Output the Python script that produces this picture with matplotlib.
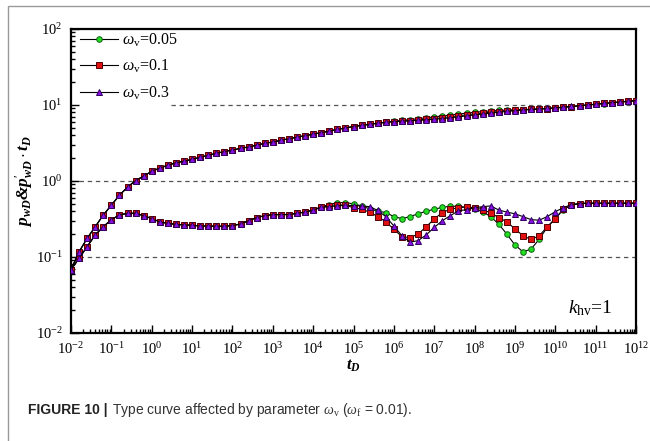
import numpy as np
import matplotlib
matplotlib.use("Agg")
import matplotlib.pyplot as plt
from matplotlib.patches import Rectangle
from matplotlib.ticker import LogLocator, NullFormatter

plt.rcParams['font.family'] = ['Liberation Serif', 'DejaVu Serif']
plt.rcParams['mathtext.fontset'] = 'custom'
plt.rcParams['mathtext.rm'] = 'Liberation Serif'
plt.rcParams['mathtext.it'] = 'Liberation Serif:italic'
plt.rcParams['mathtext.bf'] = 'Liberation Serif:bold:italic'

# dimensionless time, 5 samples per decade from 1e-2 to 1e12
log_t = [round(-2 + 0.2 * i, 1) for i in range(71)]

# pressure p_wD (shared early part, then per omega_v)
p_common = [0.068, 0.117, 0.176, 0.25, 0.357, 0.48, 0.65, 0.83, 1.01, 1.16,
            1.34, 1.48, 1.61, 1.74, 1.82, 1.93, 2.05, 2.18, 2.31, 2.44,
            2.56, 2.68, 2.81, 2.96, 3.12, 3.27, 3.43, 3.60, 3.77, 3.95,
            4.13, 4.33, 4.54, 4.77, 4.99, 5.20, 5.40, 5.58]
p_late_005 = [5.77, 5.95, 6.12, 6.28, 6.43, 6.60, 6.78, 6.97, 7.18, 7.39,
              7.60, 7.81, 8.01, 8.19, 8.35, 8.48, 8.58, 8.65, 8.71, 8.77,
              8.85, 8.96, 9.12, 9.32, 9.53, 9.75, 9.98, 10.21, 10.45, 10.68,
              10.92, 11.15, 11.38]
p_late_01 = [5.75, 5.92, 6.05, 6.15, 6.25, 6.35, 6.47, 6.62, 6.80, 7.00,
             7.21, 7.42, 7.65, 7.85, 8.03, 8.20, 8.38, 8.55, 8.66, 8.76,
             8.86, 8.98, 9.14, 9.34, 9.55, 9.77, 10.00, 10.23, 10.47, 10.70,
             10.94, 11.17, 11.40]
p_late_03 = [5.76, 5.92, 6.03, 6.12, 6.20, 6.28, 6.37, 6.49, 6.63, 6.79,
             6.98, 7.18, 7.39, 7.60, 7.82, 8.03, 8.23, 8.41, 8.58, 8.74,
             8.88, 9.02, 9.18, 9.37, 9.58, 9.80, 10.03, 10.26, 10.50, 10.73,
             10.97, 11.20, 11.43]

# pressure derivative p'_wD * t_D
d_common = [0.068, 0.096, 0.137, 0.195, 0.25, 0.31, 0.357, 0.376, 0.376, 0.35,
            0.32, 0.29, 0.277, 0.269, 0.264, 0.262, 0.256, 0.256, 0.254, 0.254,
            0.259, 0.272, 0.30, 0.33, 0.35, 0.36, 0.362, 0.362, 0.376, 0.39,
            0.415]
d_late_005 = [0.46, 0.49, 0.52, 0.52, 0.50, 0.47, 0.43, 0.40, 0.385, 0.34,
              0.32, 0.34, 0.37, 0.40, 0.425, 0.45, 0.465, 0.465, 0.45, 0.425,
              0.395, 0.34, 0.27, 0.20, 0.144, 0.117, 0.127, 0.171, 0.245, 0.32,
              0.42, 0.48, 0.505, 0.51, 0.51, 0.51, 0.51, 0.51, 0.51, 0.51]
d_late_01 = [0.45, 0.47, 0.49, 0.48, 0.445, 0.425, 0.39, 0.34, 0.29, 0.232,
             0.185, 0.18, 0.20, 0.25, 0.316, 0.385, 0.425, 0.445, 0.455, 0.445,
             0.42, 0.38, 0.33, 0.29, 0.235, 0.19, 0.17, 0.19, 0.25, 0.32,
             0.43, 0.48, 0.505, 0.51, 0.51, 0.51, 0.51, 0.51, 0.51, 0.51]
d_late_03 = [0.45, 0.46, 0.47, 0.48, 0.475, 0.47, 0.46, 0.41, 0.34, 0.256,
             0.19, 0.157, 0.164, 0.195, 0.245, 0.30, 0.35, 0.405, 0.42, 0.445,
             0.46, 0.47, 0.415, 0.39, 0.37, 0.34, 0.31, 0.305, 0.34, 0.395,
             0.445, 0.49, 0.505, 0.51, 0.51, 0.51, 0.51, 0.51, 0.51, 0.51]

labels = [r'$\mathit{\omega}_{\rm v}$=0.05', r'$\mathit{\omega}_{\rm v}$=0.1',
          r'$\mathit{\omega}_{\rm v}$=0.3']
face_colors = ['#22e022', '#e01010', '#8a10e8']
edge_colors = ['#106010', '#500000', '#300060']
markers = ['o', 's', '^']
marker_sizes = [4.0, 4.2, 4.8]

t = 10.0 ** np.array(log_t)
pressures = [p_common + p_late_005, p_common + p_late_01, p_common + p_late_03]
derivs = [d_common + d_late_005, d_common + d_late_01, d_common + d_late_03]

W, H = 650, 441
fig = plt.figure(figsize=(W / 100, H / 100), dpi=100)
ax = fig.add_axes([71 / W, 1 - 333 / H, (636 - 71) / W, (333 - 29) / H])

# reference levels
dash = (0, (3.5, 3.0))
ax.plot([3.0, 1e12], [10, 10], color='#555555', lw=0.9, ls=dash, zorder=1)
ax.plot([1e-2, 1e12], [1, 1], color='#555555', lw=0.9, ls=dash, zorder=1)
ax.plot([1e-2, 1e12], [0.1, 0.1], color='#555555', lw=0.9, ls=dash, zorder=1)

for p, d, lab, fc, ec, mk, ms in zip(pressures, derivs, labels, face_colors,
                                     edge_colors, markers, marker_sizes):
    style = dict(color='black', lw=0.8, marker=mk, ms=ms, mfc=fc, mec=ec,
                 mew=0.7, zorder=3)
    ax.plot(t, p, label=lab, **style)
    ax.plot(t, d, **style)

ax.set_xscale('log')
ax.set_yscale('log')
ax.set_xlim(1e-2, 1e12)
ax.set_ylim(1e-2, 1e2)

ax.xaxis.set_major_locator(LogLocator(base=10, numticks=20))
ax.xaxis.set_minor_locator(LogLocator(base=10, subs=np.arange(2, 10), numticks=200))
ax.xaxis.set_minor_formatter(NullFormatter())
ax.yaxis.set_minor_locator(LogLocator(base=10, subs=np.arange(2, 10), numticks=200))
ax.yaxis.set_minor_formatter(NullFormatter())

ax.tick_params(which='both', direction='in', top=False, right=False,
               labelsize=10.5, width=1.0, pad=6)
ax.tick_params(which='major', length=6)
ax.tick_params(which='minor', length=3)
for s in ax.spines.values():
    s.set_linewidth(1.6)

ax.set_xlabel(r'$\mathbf{t}_{\mathbf{D}}$', fontsize=12, labelpad=0)
ax.set_ylabel(r"$\mathbf{p}_{\mathbf{wD}}$&$\mathbf{p}^{\prime}_{\mathbf{wD}}\cdot\mathbf{t}_{\mathbf{D}}$",
              fontsize=12.5, fontweight='bold', fontstyle='italic', labelpad=0)

leg = ax.legend(loc='upper left', frameon=False, fontsize=11.5,
                handlelength=2.4, handletextpad=0.25, labelspacing=0.55,
                borderaxespad=0.0, bbox_to_anchor=(0.004, 1.012))

ax.text((612 - 71) / 565, (333 - 308) / 304, r'$k_{\rm hv}$=1',
        transform=ax.transAxes, ha='right', va='center', fontsize=14)

# card border and caption
fig.patches.append(Rectangle((7.5 / W, -0.05), 1.0, 1.05 - 6 / H,
                             transform=fig.transFigure, fill=False,
                             edgecolor='#9a9a9a', lw=1.0))
cap_y = 1 - 410 / H
head = fig.text(28 / W, cap_y, 'FIGURE 10 |', fontfamily='Liberation Sans',
                fontweight='bold', fontsize=10, color='#222222', va='center')
fig.canvas.draw()
bb = head.get_window_extent(renderer=fig.canvas.get_renderer())
fig.text(bb.x1 / W + 5 / W, cap_y,
         r'Type curve affected by parameter $\mathit{\omega}_{\rm v}$ ($\mathit{\omega}_{\rm f}$ = 0.01).',
         fontfamily='Liberation Sans', fontsize=10, color='#333333', va='center')

fig.savefig('out.png', dpi=100)
